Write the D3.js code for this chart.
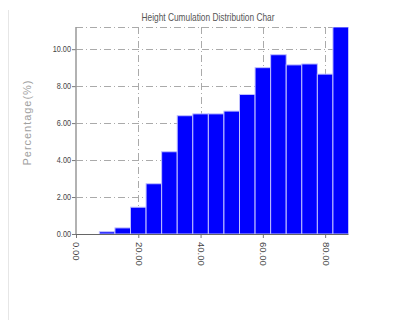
<!DOCTYPE html>
<html>
<head>
<meta charset="utf-8">
<script src="https://cdn.jsdelivr.net/npm/d3@7"></script>
<style>
  html, body { margin: 0; padding: 0; background: #fff; }
  svg { display: block; }
</style>
</head>
<body>
<svg id="chart" width="411" height="331"></svg>
<script>
// Height bins (bin centres) and the percentage of samples in each bin
const binCenters = [10, 15, 20, 25, 30, 35, 40, 45, 50, 55, 60, 65, 70, 75, 80, 85];
const percentages = [0.12, 0.33, 1.45, 2.72, 4.45, 6.4, 6.5, 6.5, 6.65, 7.55, 9.0, 9.7, 9.15, 9.2, 8.65, 11.2];
const binWidth = 5;
const xTicks = [0, 20, 40, 60, 80];
const yTicks = [0, 2, 4, 6, 8, 10];
const titleText = "Height Cumulation Distribution Char";
const yTitle = "Percentage(%)";

const svg = d3.select("#chart");
const plotLeft = 76, plotRight = 348.5, plotTop = 27, plotBottom = 234;

const x = d3.scaleLinear().domain([0, 87.5]).range([plotLeft, plotRight]);
const y = d3.scaleLinear().domain([0, 11.2]).range([plotBottom, plotTop]);

// squeeze a text element horizontally to a fraction of its natural width
function condense(sel, factor) {
  sel.each(function () {
    const w = this.getComputedTextLength();
    d3.select(this).attr("textLength", w * factor).attr("lengthAdjust", "spacingAndGlyphs");
  });
}

// faint panel edge
svg.append("line")
  .attr("x1", 8.5).attr("x2", 8.5).attr("y1", 10).attr("y2", 320)
  .attr("stroke", "#e6e6e6").attr("stroke-width", 1);

// dash-dot grid
const grid = svg.append("g")
  .attr("stroke", "#aaaaaa")
  .attr("stroke-width", 1)
  .attr("stroke-dasharray", "7,3,1,3");
grid.selectAll("line.h")
  .data(yTicks.filter(d => d > 0).concat([11.2]))
  .join("line")
  .attr("class", "h")
  .attr("x1", plotLeft).attr("x2", plotRight)
  .attr("y1", d => Math.round(y(d)) + 0.5).attr("y2", d => Math.round(y(d)) + 0.5);
grid.selectAll("line.v")
  .data(xTicks.filter(d => d > 0))
  .join("line")
  .attr("class", "v")
  .attr("x1", d => Math.round(x(d)) + 0.5).attr("x2", d => Math.round(x(d)) + 0.5)
  .attr("y1", plotTop).attr("y2", plotBottom);

// histogram bars
svg.append("defs").append("clipPath").attr("id", "plot")
  .append("rect").attr("x", plotLeft).attr("y", plotTop)
  .attr("width", plotRight - plotLeft + 1).attr("height", plotBottom - plotTop);
svg.append("g").attr("clip-path", "url(#plot)")
  .selectAll("rect")
  .data(binCenters.map((c, i) => ({ c, v: percentages[i] })))
  .join("rect")
  .attr("x", d => x(d.c - binWidth / 2))
  .attr("width", d => x(d.c + binWidth / 2) - x(d.c - binWidth / 2))
  .attr("y", d => y(d.v))
  .attr("height", d => y(0) - y(d.v))
  .attr("fill", "#0000ff")
  .attr("stroke", "#c0c0ff")
  .attr("stroke-width", 1);

// y axis
const yAxis = svg.append("g")
  .attr("transform", `translate(${plotLeft},0)`)
  .call(d3.axisLeft(y).tickValues(yTicks).tickFormat(d3.format(".2f")).tickSize(4).tickPadding(1));
yAxis.select(".domain").remove();
yAxis.selectAll(".tick line").attr("stroke", "#777");
yAxis.selectAll(".tick text")
  .attr("fill", "#444")
  .style("font-family", "'Liberation Sans', Arial, sans-serif")
  .style("font-size", "8.5px")
  .call(condense, 0.86);
svg.append("line")
  .attr("x1", plotLeft).attr("x2", plotLeft).attr("y1", plotTop).attr("y2", plotBottom)
  .attr("stroke", "#999").attr("stroke-width", 1.5);

// x axis
const xAxis = svg.append("g")
  .attr("transform", `translate(0,${plotBottom})`)
  .call(d3.axisBottom(x).tickValues(xTicks).tickFormat(d3.format(".2f")).tickSize(4));
xAxis.select(".domain").remove();
xAxis.selectAll(".tick line").attr("stroke", "#777");
xAxis.selectAll(".tick text")
  .attr("fill", "#444")
  .attr("transform", "rotate(90)")
  .attr("x", 8).attr("y", 0).attr("dy", "0.32em")
  .attr("text-anchor", "start")
  .style("font-family", "'Liberation Sans', Arial, sans-serif")
  .style("font-size", "9.5px");
svg.append("line")
  .attr("x1", plotLeft).attr("x2", plotRight).attr("y1", plotBottom + 0.5).attr("y2", plotBottom + 0.5)
  .attr("stroke", "#666").attr("stroke-width", 1.2);

// titles
svg.append("text")
  .attr("x", 208).attr("y", 21)
  .attr("text-anchor", "middle")
  .attr("fill", "#555")
  .style("font-family", "'Liberation Sans', Arial, sans-serif")
  .style("font-size", "10.5px")
  .text(titleText)
  .attr("textLength", 133)
  .attr("lengthAdjust", "spacingAndGlyphs");

svg.append("text")
  .attr("transform", "translate(31,123) rotate(-90)")
  .attr("text-anchor", "middle")
  .attr("fill", "#a0a0a0")
  .style("font-family", "'Liberation Sans', Arial, sans-serif")
  .style("font-size", "11px")
  .text(yTitle)
  .attr("textLength", 85)
  .attr("lengthAdjust", "spacing");
</script>
</body>
</html>
